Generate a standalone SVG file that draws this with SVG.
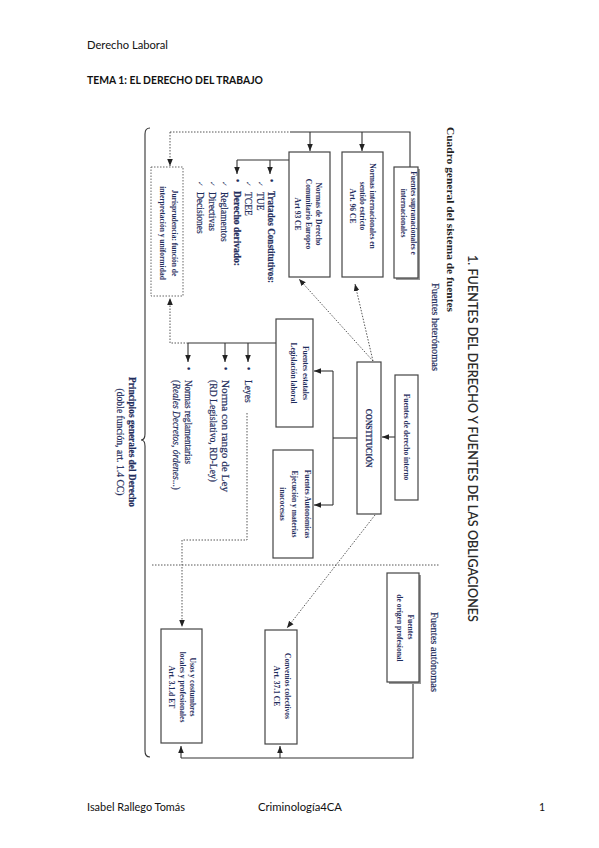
<svg xmlns="http://www.w3.org/2000/svg" width="599" height="848" viewBox="0 0 599 848">
<defs>
<marker id="arr" viewBox="0 0 10 10" refX="10" refY="5" markerWidth="7" markerHeight="7" markerUnits="userSpaceOnUse" orient="auto"><path d="M0,1 L10,5 L0,9 z" fill="#222"/></marker>
</defs>
<style>
.hdr{font-family:Lato,"Open Sans","Liberation Sans",sans-serif;font-size:10.5px;fill:#111}
.bx{fill:#fff;stroke:#444;stroke-width:1.2}
.dbx{fill:#fff;stroke:#555;stroke-width:0.9;stroke-dasharray:1.5 1.5}
.sh{fill:#999}
.bt{font-family:"Liberation Serif","DejaVu Serif",serif;font-size:7.5px;font-weight:bold;fill:#1f2d5c}
.lt{font-family:"Liberation Serif","DejaVu Serif",serif;font-size:9.5px;fill:#1f2d5c;stroke:#1f2d5c;stroke-width:0.2}
.ck{font-family:"DejaVu Sans",sans-serif;font-size:7px;fill:#1f2d5c}
.ln{fill:none;stroke:#333;stroke-width:1.1}
.dt{fill:none;stroke:#444;stroke-width:0.9;stroke-dasharray:1.5 1.5}
</style>
<rect width="599" height="848" fill="#fff"/>

<g id="header">
<text class="hdr" x="87" y="49" textLength="81" lengthAdjust="spacingAndGlyphs">Derecho Laboral</text>
<text class="hdr" x="87" y="84" font-weight="bold" textLength="176" lengthAdjust="spacingAndGlyphs">TEMA 1: EL DERECHO DEL TRABAJO</text>
</g>
<g id="footer">
<text class="hdr" x="87" y="811" textLength="98" lengthAdjust="spacingAndGlyphs">Isabel Rallego Tomás</text>
<text class="hdr" x="258" y="811" textLength="84" lengthAdjust="spacingAndGlyphs">Criminología4CA</text>
<text class="hdr" x="539" y="811">1</text>
</g>

<g id="titles">
<text transform="translate(467.5,255) rotate(90)" font-family="Lato,'Open Sans',sans-serif" font-size="13" font-weight="600" fill="#2a2a2a" textLength="367" lengthAdjust="spacingAndGlyphs">1. FUENTES DEL DERECHO Y FUENTES DE LAS OBLIGACIONES</text>
<text transform="translate(447,127) rotate(90)" font-family="'Liberation Serif',serif" font-size="11" font-weight="bold" fill="#222" textLength="185" lengthAdjust="spacingAndGlyphs">Cuadro general del sistema de fuentes</text>
<text class="lt" transform="translate(432,283) rotate(90)" textLength="88" lengthAdjust="spacingAndGlyphs">Fuentes heterónomas</text>
<text class="lt" transform="translate(431,612) rotate(90)" textLength="80" lengthAdjust="spacingAndGlyphs">Fuentes autónomas</text>
</g>

<g id="connectors">
<path class="ln" d="M290,132 H410 V167"/>
<path class="dt" d="M170,132 H290"/>
<path class="ln" d="M362,132 V151" marker-end="url(#arr)"/>
<path class="ln" d="M310,132 V151" marker-end="url(#arr)"/>
<path class="dt" d="M170,132 V166" marker-end="url(#arr)"/>
<path class="ln" d="M289,160 H237"/>
<path class="ln" d="M270,160 V174" marker-end="url(#arr)"/>
<path class="ln" d="M237,160 V174" marker-end="url(#arr)"/>
<path class="ln" d="M395,437 H382" marker-end="url(#arr)"/>
<path class="ln" d="M357,438 H333"/>
<path class="ln" d="M333,371 V505"/>
<path class="ln" d="M333,371 H314" marker-end="url(#arr)"/>
<path class="ln" d="M333,505 H314" marker-end="url(#arr)"/>
<path class="ln" d="M276,343 H188"/>
<path class="dt" d="M188,343 H170 V298" marker-end="url(#arr)"/>
<path class="ln" d="M248,343 V362" marker-end="url(#arr)"/>
<path class="ln" d="M225,343 V362" marker-end="url(#arr)"/>
<path class="ln" d="M188,343 V362" marker-end="url(#arr)"/>
<path class="dt" d="M247,413 V540 H182 V627" marker-end="url(#arr)"/>
<path class="dt" d="M373,361 L299,279" marker-end="url(#arr)"/>
<path class="dt" d="M373,361 L355,284" marker-end="url(#arr)"/>
<path class="dt" d="M375,515 L287,628" marker-end="url(#arr)"/>
<path class="dt" d="M152,565 H440"/>
<path class="ln" d="M413,682 V758 H181"/>
<path class="ln" d="M181,758 V746" marker-end="url(#arr)"/>
<path class="ln" d="M280,758 V746" marker-end="url(#arr)"/>
<path class="ln" d="M150,128 Q145,128 145,134 V434 Q145,440 141,440 Q145,440 145,446 V751 Q145,757 150,757"/>
</g>

<g id="n-supra">
<rect class="sh" x="396" y="169" width="24" height="111"/>
<rect class="bx" x="394" y="167" width="24" height="111"/>
<text class="bt" text-anchor="middle" transform="translate(410.5,213) rotate(90)">Fuentes supranacionales e</text>
<text class="bt" text-anchor="middle" transform="translate(400.5,213) rotate(90)">internacionales</text>
</g>
<g id="n-internac">
<rect class="bx" x="342" y="152" width="41" height="125"/>
<text class="bt" text-anchor="middle" transform="translate(369.5,206) rotate(90)">Normas internacionales en</text>
<text class="bt" text-anchor="middle" transform="translate(359.5,206) rotate(90)">sentido estricto</text>
<text class="bt" text-anchor="middle" transform="translate(349.5,206) rotate(90)" font-weight="normal">Art. 96 CE</text>
</g>
<g id="n-comunit">
<rect class="bx" x="289" y="152" width="41" height="125"/>
<text class="bt" text-anchor="middle" transform="translate(315.5,214) rotate(90)">Normas de Derecho</text>
<text class="bt" text-anchor="middle" transform="translate(305.5,214) rotate(90)">Comunitario Europeo</text>
<text class="bt" text-anchor="middle" transform="translate(294.5,214) rotate(90)" font-weight="normal">Art 93 CE</text>
</g>
<g id="n-tratados">
<text class="lt" transform="translate(268,179) rotate(90)">•</text>
<text class="lt" font-weight="bold" transform="translate(268,191) rotate(90)" textLength="92" lengthAdjust="spacingAndGlyphs">Tratados Constitutivos:</text>
<text class="ck" transform="translate(257.5,181) rotate(90)">✓</text>
<text class="lt" transform="translate(257,192) rotate(90)">TUE</text>
<text class="ck" transform="translate(245.5,181) rotate(90)">✓</text>
<text class="lt" transform="translate(245,192) rotate(90)">TCEE</text>
<text class="lt" transform="translate(234,179) rotate(90)">•</text>
<text class="lt" font-weight="bold" transform="translate(234,191) rotate(90)">Derecho derivado:</text>
<text class="ck" transform="translate(221.5,181) rotate(90)">✓</text>
<text class="lt" transform="translate(221,192) rotate(90)">Reglamentos</text>
<text class="ck" transform="translate(209.5,181) rotate(90)">✓</text>
<text class="lt" transform="translate(209,192) rotate(90)">Directivas</text>
<text class="ck" transform="translate(197.5,181) rotate(90)">✓</text>
<text class="lt" transform="translate(197,192) rotate(90)">Decisiones</text>
</g>
<g id="n-juris">
<rect class="dbx" x="151" y="167" width="32" height="129"/>
<text class="bt" font-size="8.5" text-anchor="middle" transform="translate(172,233) rotate(90)">Jurisprudencia: función de</text>
<text class="bt" font-size="8.5" text-anchor="middle" transform="translate(160,233) rotate(90)">interpretación y uniformidad</text>
</g>
<g id="n-interno">
<rect class="bx" x="395" y="375" width="23" height="125"/>
<text class="bt" font-size="8" text-anchor="middle" transform="translate(403.5,437) rotate(90)">Fuentes de derecho interno</text>
</g>
<g id="n-constitucion">
<rect class="bx" x="357" y="362" width="24" height="152"/>
<text class="bt" font-size="8" font-weight="normal" stroke="#1f2d5c" stroke-width="0.2" text-anchor="middle" transform="translate(365.5,438) rotate(90)">CONSTITUCIÓN</text>
</g>
<g id="n-estatales">
<rect class="bx" x="276" y="319" width="37" height="108"/>
<text class="bt" font-size="8" text-anchor="middle" transform="translate(302.5,373) rotate(90)">Fuentes estatales</text>
<text class="bt" font-size="8" font-weight="normal" text-anchor="middle" transform="translate(290.5,373) rotate(90)">Legislación laboral</text>
</g>
<g id="n-autonomicas">
<rect class="bx" x="273" y="450" width="40" height="108"/>
<text class="bt" font-size="8" text-anchor="middle" transform="translate(304.5,504) rotate(90)">Fuentes Autonómicas</text>
<text class="bt" font-size="8" font-weight="normal" text-anchor="middle" transform="translate(291.5,504) rotate(90)">Ejecución y materias</text>
<text class="bt" font-size="8" font-weight="normal" text-anchor="middle" transform="translate(279.5,504) rotate(90)">inacocesas</text>
</g>
<g id="n-leyes">
<text class="lt" transform="translate(245,367) rotate(90)">•</text>
<text class="lt" transform="translate(245,380) rotate(90)">Leyes</text>
<text class="lt" transform="translate(222,367) rotate(90)">•</text>
<text class="lt" transform="translate(222,380) rotate(90)" textLength="112" lengthAdjust="spacingAndGlyphs">Norma con rango de Ley</text>
<text class="lt" transform="translate(209.5,380) rotate(90)" textLength="102" lengthAdjust="spacingAndGlyphs">(RD Legislativo, RD-Ley)</text>
<text class="lt" transform="translate(185,367) rotate(90)">•</text>
<text class="lt" transform="translate(185,380) rotate(90)" textLength="84" lengthAdjust="spacingAndGlyphs">Normas reglamentarias</text>
<text class="lt" transform="translate(172.5,380) rotate(90)" textLength="110" lengthAdjust="spacingAndGlyphs">(<tspan font-style="italic">Reales Decretos, órdenes</tspan>...)</text>
</g>
<g id="n-principios">
<text class="lt" font-weight="bold" font-size="9" text-anchor="middle" transform="translate(129,442) rotate(90)" textLength="130" lengthAdjust="spacingAndGlyphs">Principios generales del Derecho</text>
<text class="lt" font-size="8.5" text-anchor="middle" transform="translate(117,442) rotate(90)" textLength="107" lengthAdjust="spacingAndGlyphs">(doble función, art. 1.4 CC)</text>
</g>
<g id="n-origen">
<rect class="sh" x="389" y="575" width="32" height="109"/>
<rect class="bx" x="387" y="573" width="32" height="109"/>
<text class="bt" font-size="8" text-anchor="middle" transform="translate(407.5,627) rotate(90)">Fuentes</text>
<text class="bt" font-size="8" text-anchor="middle" transform="translate(396.5,628) rotate(90)">de origen profesional</text>
</g>
<g id="n-convenios">
<rect class="bx" x="265" y="630" width="32" height="114"/>
<text class="bt" font-size="8" text-anchor="middle" transform="translate(285,686) rotate(90)">Convenios colectivos</text>
<text class="bt" font-size="8" font-weight="normal" text-anchor="middle" transform="translate(273.5,686) rotate(90)">Art. 37.1 CE</text>
</g>
<g id="n-usos">
<rect class="bx" x="161" y="629" width="41" height="114"/>
<text class="bt" font-size="8" text-anchor="middle" transform="translate(189.5,687) rotate(90)">Usos y costumbres</text>
<text class="bt" font-size="8" text-anchor="middle" transform="translate(179.5,687) rotate(90)">locales y profesionales</text>
<text class="bt" font-size="8" font-weight="normal" text-anchor="middle" transform="translate(168.5,687) rotate(90)">Art. 3.1.d ET</text>
</g>
</svg>
